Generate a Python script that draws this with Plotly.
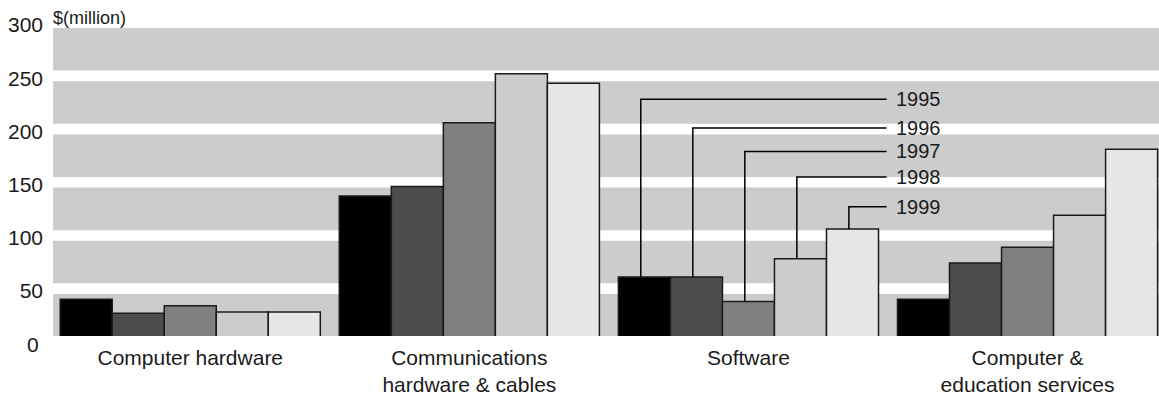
import plotly.graph_objects as go

# Spending by product category, $ million
categories = ["Computer hardware", "Communications<br>hardware & cables",
              "Software", "Computer &<br>education services"]
years = ["1995", "1996", "1997", "1998", "1999"]
values_1995 = [45, 142, 66, 45]
values_1996 = [32, 151, 66, 79]
values_1997 = [39, 211, 43, 94]
values_1998 = [33, 257, 83, 124]
values_1999 = [33, 248, 111, 186]
series = [values_1995, values_1996, values_1997, values_1998, values_1999]

# level (in $ million) where each year's leader line turns toward its label
label_levels = [233, 206, 184, 160, 132]
y_ticks = [50, 100, 150, 200, 250, 300]

bar_colors = ["#000000", "#4d4d4d", "#808080", "#cccccc", "#e6e6e6"]
FONT = "Liberation Sans, Arial, sans-serif"
TEXT = "#1a1a1a"

BARGAP = 0.068
bar_w = (1 - BARGAP) / len(years)
x_pos = list(range(len(categories)))

fig = go.Figure()

for yr, vals, col in zip(years, series, bar_colors):
    fig.add_trace(go.Bar(
        x=x_pos, y=vals, name=yr,
        marker=dict(color=col, line=dict(color="#1a1a1a", width=1.5)),
        hoverinfo="x+y+name",
    ))

# leader lines from the Software bars to the year labels
sw = categories.index("Software")
line_end = sw + 0.495
annotations = []
for i, (yr, lvl) in enumerate(zip(years, label_levels)):
    xc = sw + (i - 2) * bar_w - 0.013
    fig.add_trace(go.Scatter(
        x=[xc, xc, line_end], y=[series[i][sw], lvl, lvl],
        mode="lines", line=dict(color="#000000", width=1.5),
        showlegend=False, hoverinfo="skip",
    ))
    annotations.append(dict(
        x=sw + 0.522, y=lvl, xref="x", yref="y", text=yr,
        showarrow=False, xanchor="left", yanchor="middle",
        font=dict(family=FONT, size=20, color=TEXT),
    ))

# grey horizontal bands behind the bars
shapes = []
for t in y_ticks:
    shapes.append(dict(
        type="rect", xref="paper", yref="y", x0=0, x1=1, y0=t - 40, y1=t,
        fillcolor="#cccccc", line=dict(width=0), layer="below",
    ))

annotations.append(dict(
    x=-0.002, y=1.032, xref="paper", yref="paper", text="$(million)",
    showarrow=False, xanchor="left", yanchor="middle",
    font=dict(family=FONT, size=18, color=TEXT),
))
annotations.append(dict(
    x=-0.0105, y=-0.029, xref="paper", yref="paper", text="0",
    showarrow=False, xanchor="right", yanchor="middle",
    font=dict(family=FONT, size=21, color=TEXT),
))

fig.update_layout(
    width=1159, height=396,
    margin=dict(l=53, r=0, t=28, b=60),
    paper_bgcolor="white", plot_bgcolor="white",
    barmode="group", bargap=BARGAP, bargroupgap=0,
    showlegend=False,
    shapes=shapes, annotations=annotations,
    font=dict(family=FONT, size=20, color=TEXT),
)
fig.update_xaxes(
    range=[-0.4918, 3.471], tickvals=x_pos, ticktext=categories,
    showgrid=False, zeroline=False, showline=False, ticks="",
    tickfont=dict(family=FONT, size=21, color=TEXT),
    ticklabelstandoff=7,
)
fig.update_yaxes(
    range=[10.5, 300], tickvals=y_ticks,
    showgrid=False, zeroline=False, showline=False, ticks="",
    tickfont=dict(family=FONT, size=21, color=TEXT),
    ticklabelstandoff=9, ticklabelshift=-3,
)

fig.write_html("out.html")
